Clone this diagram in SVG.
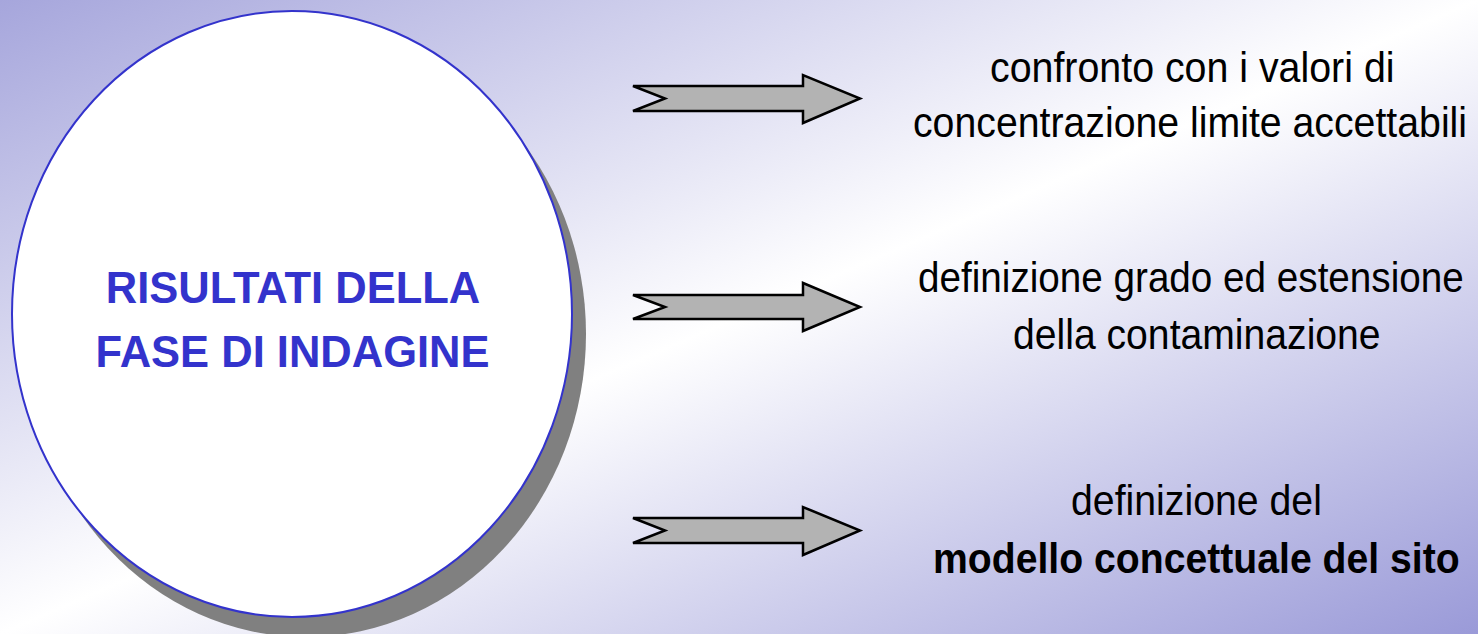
<svg xmlns="http://www.w3.org/2000/svg" width="1478" height="634" viewBox="0 0 1478 634">
  <defs>
    <linearGradient id="bg" x1="0" y1="0" x2="1" y2="1">
      <stop offset="0" stop-color="#a6a6dc"/>
      <stop offset="0.5" stop-color="#ffffff"/>
      <stop offset="1" stop-color="#9a9ad8"/>
    </linearGradient>
  </defs>
  <style>
    .arrow { fill: #b3b3b3; stroke: #000000; stroke-width: 2.5; stroke-linejoin: miter; }
    .title { font-family: "Liberation Sans", Arial, sans-serif; font-weight: bold; font-size: 43.5px; fill: #3333cc; text-anchor: middle; }
    .label { font-family: "Liberation Sans", Arial, sans-serif; font-size: 43px; fill: #000000; }
    .bold { font-weight: bold; }
  </style>
  <rect x="0" y="0" width="1478" height="634" fill="url(#bg)"/>

  <g id="node-risultati">
    <ellipse cx="306" cy="334" rx="280" ry="303" fill="#808080"/>
    <ellipse cx="292" cy="314" rx="280" ry="303" fill="#ffffff" stroke="#3333cc" stroke-width="2"/>
    <text class="title" x="293" y="303">RISULTATI DELLA</text>
    <text class="title" x="292.5" y="367">FASE DI INDAGINE</text>
  </g>

  <g id="connectors">
    <polygon class="arrow" points="633,86 803,86 803,75 860,98.5 803,123 803,111 633,111 665,98.5"/>
    <polygon class="arrow" points="633,295 803,295 803,283 860,307 803,331 803,319 633,319 665,307"/>
    <polygon class="arrow" points="633,518 803,518 803,507 860,530.5 803,555 803,543 633,543 665,530.5"/>
  </g>

  <g id="node-confronto">
    <text class="label" transform="translate(990,82) scale(0.915,1)" x="0" y="0">confronto con i valori di</text>
    <text class="label" transform="translate(913,137) scale(0.913,1)" x="0" y="0">concentrazione limite accettabili</text>
  </g>

  <g id="node-definizione-grado">
    <text class="label" transform="translate(918,292) scale(0.899,1)" x="0" y="0">definizione grado ed estensione</text>
    <text class="label" transform="translate(1013,349) scale(0.91,1)" x="0" y="0">della contaminazione</text>
  </g>

  <g id="node-modello">
    <text class="label" transform="translate(1071,515) scale(0.913,1)" x="0" y="0">definizione del</text>
    <text class="label bold" transform="translate(933,573) scale(0.911,1)" x="0" y="0">modello concettuale del sito</text>
  </g>
</svg>
